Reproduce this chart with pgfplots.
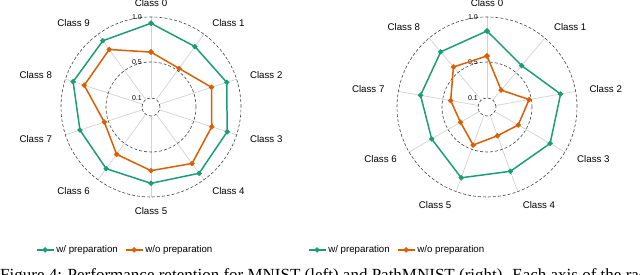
\documentclass[border=0pt]{standalone}
\usepackage{pgfplots}
\pgfplotsset{compat=1.18}
\usepgfplotslibrary{polar}
\usepackage{pgfplotstable}
\usepackage{fontspec}
\setmainfont{Liberation Sans}
\newfontfamily\capfont{Liberation Serif}
\definecolor{cgreen}{HTML}{1B9E77}
\definecolor{corange}{HTML}{D95F02}
\definecolor{ringc}{HTML}{444444}
\definecolor{spokec}{HTML}{D2D2D2}

% MNIST: angle (deg, ccw from x axis), w/ preparation, w/o preparation
\pgfplotstableread{
ang w wo
90  0.93 0.61
54  0.83 0.53
18  0.885 0.707
-18 0.89 0.71
-54 0.91 0.776
-90 0.848 0.707
-126 0.847 0.65
-162 0.83 0.545
-198 0.91 0.78
-234 0.91 0.79
-270 0.93 0.61
}\mnistdata

% PathMNIST
\pgfplotstableread{
ang w wo
90   0.845 0.567
50   0.60 0.245
10   0.83 0.475
-30  0.81 0.40
-70  0.76 0.34
-110 0.837 0.45
-150 0.71 0.34
-190 0.75 0.41
-230 0.80 0.58
-270 0.845 0.567
}\pathdata

\pgfplotsset{
  radar/.style={
    hide axis, width=180pt, height=180pt, scale only axis,
    xmin=0, xmax=360, ymin=0, ymax=1, clip=false, anchor=center,
    legend columns=2,
    legend style={draw=none, fill=none, font=\fontsize{9.7}{11}\selectfont,
      /tikz/every even column/.append style={column sep=5pt}},
  },
  ser/.style={line width=1.5pt, mark=*, mark size=1.8pt},
}
\tikzset{
  spoke/.style={spokec, line width=0.7pt},
  ring/.style={ringc, line width=0.6pt, dash pattern=on 3pt off 2pt},
  clab/.style={inner sep=0pt, font=\fontsize{9.7}{11}\selectfont},
  rlab/.style={inner sep=0pt, anchor=east, xshift=-9pt, font=\fontsize{7}{8}\selectfont},
}

\begin{document}
\begin{tikzpicture}
\useasboundingbox (0,0) rectangle (640pt,275pt);
\clip (0,0) rectangle (640pt,275pt);

% ---------- Left: MNIST ----------
\begin{polaraxis}[radar, at={(151pt,168pt)},
  legend style={at={(axis description cs:0.356,-0.294)}, anchor=center}]
  \draw[spoke] (axis cs:90,0.1) -- (axis cs:90,1);
  \draw[spoke] (axis cs:54,0.1) -- (axis cs:54,1);
  \draw[spoke] (axis cs:18,0.1) -- (axis cs:18,1);
  \draw[spoke] (axis cs:-18,0.1) -- (axis cs:-18,1);
  \draw[spoke] (axis cs:-54,0.1) -- (axis cs:-54,1);
  \draw[spoke] (axis cs:-90,0.1) -- (axis cs:-90,1);
  \draw[spoke] (axis cs:-126,0.1) -- (axis cs:-126,1);
  \draw[spoke] (axis cs:-162,0.1) -- (axis cs:-162,1);
  \draw[spoke] (axis cs:-198,0.1) -- (axis cs:-198,1);
  \draw[spoke] (axis cs:-234,0.1) -- (axis cs:-234,1);
  \draw[ring] (axis cs:0,0) circle[radius=90pt];
  \draw[ring] (axis cs:0,0) circle[radius=45pt];
  \draw[ring] (axis cs:0,0) circle[radius=9pt];
  \node[rlab] at (axis cs:90,1) {1.0};
  \node[rlab] at (axis cs:90,0.5) {0.5};
  \node[rlab] at (axis cs:90,0.1) {0.1};
  \node[clab, anchor=center] at (axis cs:90,1.155) {Class 0};
  \node[clab, anchor=west] at (axis cs:54,1.155) {Class 1};
  \node[clab, anchor=west] at (axis cs:18,1.155) {Class 2};
  \node[clab, anchor=west] at (axis cs:-18,1.155) {Class 3};
  \node[clab, anchor=west] at (axis cs:-54,1.155) {Class 4};
  \node[clab, anchor=center] at (axis cs:-90,1.155) {Class 5};
  \node[clab, anchor=east] at (axis cs:-126,1.155) {Class 6};
  \node[clab, anchor=east] at (axis cs:-162,1.155) {Class 7};
  \node[clab, anchor=east] at (axis cs:-198,1.155) {Class 8};
  \node[clab, anchor=east] at (axis cs:-234,1.155) {Class 9};
  \addplot[ser, cgreen] table[x=ang, y=w] {\mnistdata};
  \addlegendentry{w/ preparation}
  \addplot[ser, corange] table[x=ang, y=wo] {\mnistdata};
  \addlegendentry{w/o preparation}
\end{polaraxis}

% ---------- Right: PathMNIST ----------
\begin{polaraxis}[radar, at={(487pt,168pt)},
  legend style={at={(axis description cs:0.0,-0.294)}, anchor=center}]
  \draw[spoke] (axis cs:90,0.1) -- (axis cs:90,1);
  \draw[spoke] (axis cs:50,0.1) -- (axis cs:50,1);
  \draw[spoke] (axis cs:10,0.1) -- (axis cs:10,1);
  \draw[spoke] (axis cs:-30,0.1) -- (axis cs:-30,1);
  \draw[spoke] (axis cs:-70,0.1) -- (axis cs:-70,1);
  \draw[spoke] (axis cs:-110,0.1) -- (axis cs:-110,1);
  \draw[spoke] (axis cs:-150,0.1) -- (axis cs:-150,1);
  \draw[spoke] (axis cs:-190,0.1) -- (axis cs:-190,1);
  \draw[spoke] (axis cs:-230,0.1) -- (axis cs:-230,1);
  \draw[ring] (axis cs:0,0) circle[radius=90pt];
  \draw[ring] (axis cs:0,0) circle[radius=45pt];
  \draw[ring] (axis cs:0,0) circle[radius=9pt];
  \node[rlab] at (axis cs:90,1) {1.0};
  \node[rlab] at (axis cs:90,0.5) {0.5};
  \node[rlab] at (axis cs:90,0.1) {0.1};
  \node[clab, anchor=center] at (axis cs:90,1.155) {Class 0};
  \node[clab, anchor=west] at (axis cs:50,1.155) {Class 1};
  \node[clab, anchor=west] at (axis cs:10,1.155) {Class 2};
  \node[clab, anchor=west] at (axis cs:-30,1.155) {Class 3};
  \node[clab, anchor=west] at (axis cs:-70,1.155) {Class 4};
  \node[clab, anchor=east] at (axis cs:-110,1.155) {Class 5};
  \node[clab, anchor=east] at (axis cs:-150,1.155) {Class 6};
  \node[clab, anchor=east] at (axis cs:-190,1.155) {Class 7};
  \node[clab, anchor=east] at (axis cs:-230,1.155) {Class 8};
  \addplot[ser, cgreen] table[x=ang, y=w] {\pathdata};
  \addlegendentry{w/ preparation}
  \addplot[ser, corange] table[x=ang, y=wo] {\pathdata};
  \addlegendentry{w/o preparation}
\end{polaraxis}

\node[anchor=base west, inner sep=0pt, font=\capfont\fontsize{17}{20}\selectfont]
  at (0pt,-6pt) {Figure 4: Performance retention for MNIST (left) and PathMNIST (right). Each axis of the radar};
\end{tikzpicture}
\end{document}
